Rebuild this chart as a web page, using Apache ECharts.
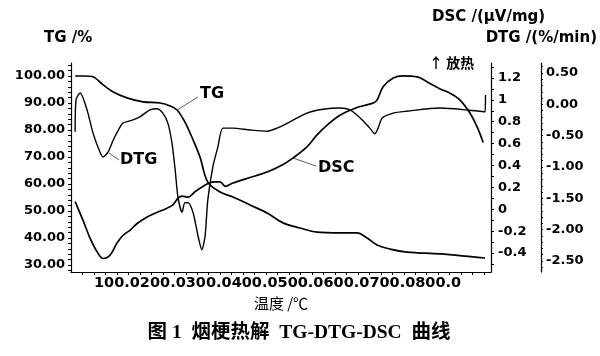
<!DOCTYPE html>
<html>
<head>
<meta charset="utf-8">
<script src="https://cdn.jsdelivr.net/npm/echarts@6/dist/echarts.min.js"></script>
<style>
html,body{margin:0;padding:0;background:#fff;}
#c{width:600px;height:356px;}
</style>
</head>
<body>
<div id="c"></div>
<script>
// ---- data ----
var tgTemp = [9, 30, 46, 70, 92, 122, 157, 194, 216, 231, 248, 266, 281, 298, 325, 353, 390, 427, 462, 499, 536, 586, 623, 645, 667, 695, 732, 804, 876, 902];
var tgVal  = [100, 100, 99.8, 96.7, 94.1, 91.9, 90.4, 90.0, 88.9, 87.4, 83.0, 76.3, 70.0, 60.7, 57.0, 55.2, 52.2, 49.3, 45.6, 43.7, 42.2, 41.9, 41.9, 40.0, 37.4, 35.9, 34.8, 34.1, 33.0, 32.6];

var dtgTemp = [9, 11, 20, 35, 48, 63, 70, 81, 92, 107, 113, 135, 150, 172, 187, 200, 211, 220, 227, 233, 242, 248, 255, 266, 277, 285, 292, 298, 309, 320, 331, 353, 390, 427, 449, 477, 514, 549, 586, 608, 630, 651, 662, 669, 678, 702, 732, 804, 863, 902, 903];
var dtgVal  = [-0.44, 0.07, 0.18, -0.09, -0.46, -0.76, -0.84, -0.76, -0.57, -0.36, -0.30, -0.25, -0.20, -0.09, -0.07, -0.14, -0.30, -0.62, -1.05, -1.48, -1.72, -1.57, -1.57, -1.73, -2.11, -2.32, -2.11, -1.53, -1.00, -0.68, -0.38, -0.38, -0.41, -0.43, -0.38, -0.28, -0.14, -0.08, -0.06, -0.09, -0.22, -0.38, -0.47, -0.38, -0.22, -0.14, -0.11, -0.06, -0.09, -0.12, 0.15];

var dscTemp = [9, 26, 41, 57, 70, 85, 100, 113, 129, 144, 166, 187, 209, 222, 233, 242, 255, 270, 288, 301, 314, 325, 336, 353, 390, 427, 462, 484, 514, 536, 558, 586, 623, 658, 667, 680, 702, 723, 754, 782, 804, 826, 847, 869, 885, 898];
var dscVal  = [0.07, -0.10, -0.26, -0.39, -0.45, -0.42, -0.31, -0.24, -0.19, -0.13, -0.07, -0.03, 0.01, 0.04, 0.10, 0.12, 0.11, 0.16, 0.21, 0.24, 0.25, 0.25, 0.21, 0.24, 0.29, 0.34, 0.41, 0.47, 0.57, 0.68, 0.77, 0.86, 0.93, 0.97, 1.00, 1.12, 1.20, 1.22, 1.21, 1.15, 1.10, 1.06, 1.00, 0.88, 0.75, 0.61];

var xTickLabels   = [100, 200, 300, 400, 500, 600, 700, 800];
var tgTickLabels  = [30, 40, 50, 60, 70, 80, 90, 100];
var dscTickLabels = [-0.4, -0.2, 0, 0.2, 0.4, 0.6, 0.8, 1, 1.2];
var dtgTickLabels = [-2.5, -2, -1.5, -1, -0.5, 0, 0.5];

// ---- helpers ----
function pairs(xs, ys) { return xs.map(function (x, i) { return [x, ys[i]]; }); }
function steps(a, b, s) { var r = []; var n = Math.round((b - a) / s); for (var i = 0; i <= n; i++) r.push(+(a + i * s).toFixed(4)); return r; }

var FONT = '"DejaVu Sans", sans-serif';
var axisLineStyle = { show: true, onZero: false, lineStyle: { color: '#000', width: 1.2 } };
var lbl = { color: '#000', fontFamily: FONT, fontWeight: 'bold', fontSize: 13 };

var chart = echarts.init(document.getElementById('c'), null, { renderer: 'canvas' });
chart.setOption({
  animation: false,
  backgroundColor: '#fff',
  grid: { left: 71, right: 109, top: 63, bottom: 84, containLabel: false, outerBoundsMode: 'none' },
  xAxis: {
    type: 'value', min: 0, max: 915,
    axisLine: axisLineStyle,
    splitLine: { show: false },
    axisTick: { show: true, length: 3, inside: false, customValues: steps(25, 900, 25), lineStyle: { color: '#000' } },
    axisLabel: Object.assign({}, lbl, { customValues: xTickLabels, formatter: function (v) { return v.toFixed(1); }, fontSize: 14.5, margin: 4 }),
    name: '温度 /℃', nameLocation: 'middle', nameGap: 19,
    nameTextStyle: { color: '#000', fontSize: 15, fontFamily: '"Noto Sans CJK SC", "DejaVu Sans", sans-serif' }
  },
  yAxis: [
    {
      type: 'value', position: 'left', min: 27.41, max: 104.81,
      axisLine: axisLineStyle, splitLine: { show: false },
      axisTick: { show: true, length: 3, customValues: steps(28, 104, 2), lineStyle: { color: '#000' } },
      axisLabel: Object.assign({}, lbl, { customValues: tgTickLabels, formatter: function (v) { return v.toFixed(2); }, margin: 6 })
    },
    {
      type: 'value', position: 'right', min: -0.5736, max: 1.337,
      axisLine: axisLineStyle, splitLine: { show: false },
      axisTick: { show: true, length: 3, customValues: steps(-0.5, 1.3, 0.1), lineStyle: { color: '#000' } },
      axisLabel: Object.assign({}, lbl, { customValues: dscTickLabels, formatter: function (v) { return String(v); }, margin: 7 })
    },
    {
      type: 'value', position: 'right', offset: 50, min: -2.676, max: 0.659,
      axisLine: axisLineStyle, splitLine: { show: false },
      axisTick: { show: true, length: 2, customValues: steps(-2.6, 0.6, 0.1), lineStyle: { color: '#000' } },
      axisLabel: Object.assign({}, lbl, { customValues: dtgTickLabels, formatter: function (v) { return v.toFixed(2); }, margin: 5 })
    }
  ],
  series: [
    { name: 'TG', type: 'line', yAxisIndex: 0, data: pairs(tgTemp, tgVal), showSymbol: false, smooth: 0.35, lineStyle: { color: '#000', width: 1.7 } },
    { name: 'DTG', type: 'line', yAxisIndex: 2, data: pairs(dtgTemp, dtgVal), showSymbol: false, smooth: 0.25, lineStyle: { color: '#000', width: 1.4 } },
    { name: 'DSC', type: 'line', yAxisIndex: 1, data: pairs(dscTemp, dscVal), showSymbol: false, smooth: 0.35, lineStyle: { color: '#000', width: 1.7 } }
  ],
  graphic: [
    { type: 'text', x: 44, y: 38, style: { text: 'TG /%', font: 'bold 15px ' + FONT, fill: '#000', textAlign: 'left', textVerticalAlign: 'middle', align: 'left', verticalAlign: 'middle' } },
    { type: 'text', x: 432, y: 17, style: { text: 'DSC /(µV/mg)', font: 'bold 15px ' + FONT, fill: '#000', textAlign: 'left', textVerticalAlign: 'middle', align: 'left', verticalAlign: 'middle' } },
    { type: 'text', x: 597, y: 38, style: { text: 'DTG /(%/min)', font: 'bold 15px ' + FONT, fill: '#000', textAlign: 'right', textVerticalAlign: 'middle', align: 'right', verticalAlign: 'middle' } },
    { type: 'text', x: 429, y: 63, style: { text: '↑ 放热', font: 'bold 14px "Noto Sans CJK SC", sans-serif', fill: '#000', textAlign: 'left', textVerticalAlign: 'middle', align: 'left', verticalAlign: 'middle' } },
    { type: 'text', x: 200, y: 94, style: { text: 'TG', font: 'bold 16px ' + FONT, fill: '#000', textAlign: 'left', textVerticalAlign: 'middle', align: 'left', verticalAlign: 'middle' } },
    { type: 'line', shape: { x1: 177, y1: 110, x2: 198, y2: 97 }, style: { stroke: '#333', lineWidth: 0.8 } },
    { type: 'text', x: 120, y: 160, style: { text: 'DTG', font: 'bold 16px ' + FONT, fill: '#000', textAlign: 'left', textVerticalAlign: 'middle', align: 'left', verticalAlign: 'middle' } },
    { type: 'line', shape: { x1: 109, y1: 153, x2: 119, y2: 160 }, style: { stroke: '#333', lineWidth: 0.8 } },
    { type: 'text', x: 318, y: 168, style: { text: 'DSC', font: 'bold 16px ' + FONT, fill: '#000', textAlign: 'left', textVerticalAlign: 'middle', align: 'left', verticalAlign: 'middle' } },
    { type: 'line', shape: { x1: 293, y1: 158, x2: 316, y2: 166 }, style: { stroke: '#333', lineWidth: 0.8 } },
    { type: 'text', x: 299, y: 333, style: { text: '图 1  烟梗热解  TG-DTG-DSC  曲线', font: 'bold 19.5px "Liberation Serif", "Noto Sans CJK SC", serif', fill: '#000', textAlign: 'center', textVerticalAlign: 'middle', align: 'center', verticalAlign: 'middle' } }
  ]
});
</script>
</body>
</html>
